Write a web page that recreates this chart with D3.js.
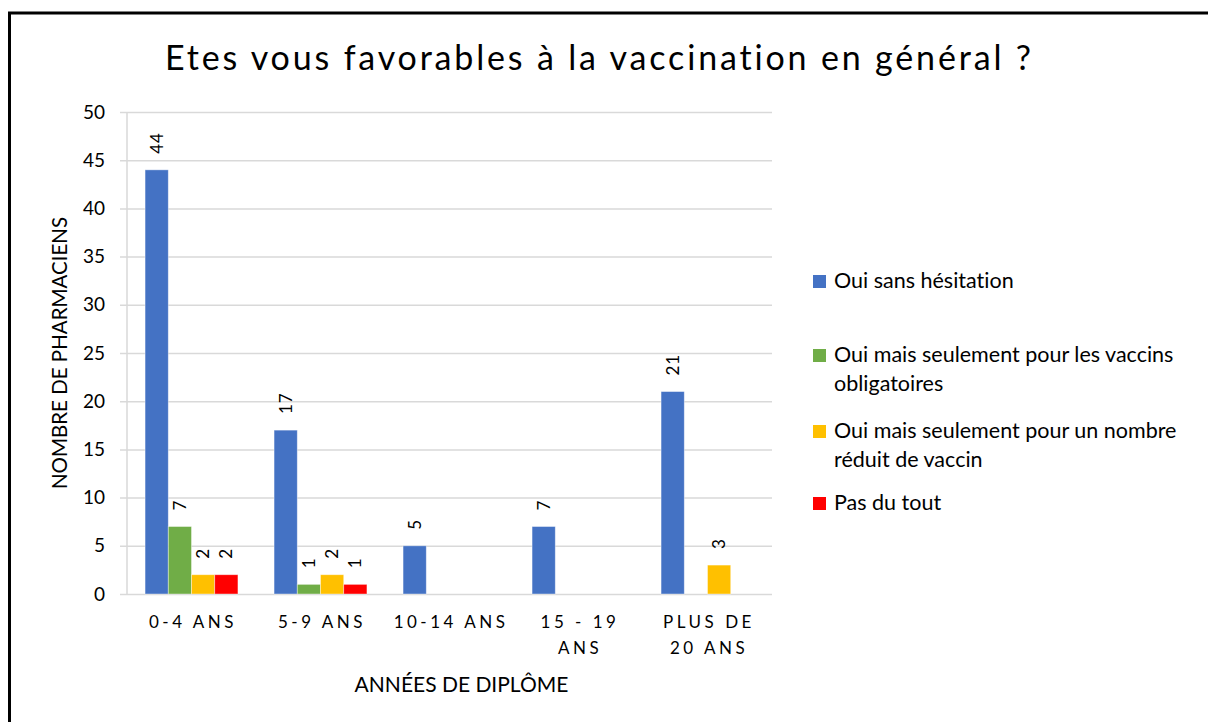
<!DOCTYPE html>
<html>
<head>
<meta charset="utf-8">
<script src="https://cdn.jsdelivr.net/npm/d3@7"></script>
<style>
  body { margin: 0; background: #fff; }
  svg text { font-family: "Lato", "Open Sans", sans-serif; fill: #000; font-variant-ligatures: none; }
</style>
</head>
<body>
<svg id="chart" width="1208" height="722"></svg>
<script>
// categories (x axis) and the lines they wrap to
const categories = ["0-4 ANS", "5-9 ANS", "10-14 ANS", "15 - 19 ANS", "PLUS DE 20 ANS"];
const categoryLines = [["0-4 ANS"], ["5-9 ANS"], ["10-14 ANS"], ["15 - 19", "ANS"], ["PLUS DE", "20 ANS"]];

// series
const seriesNames = [
  "Oui sans hésitation",
  "Oui mais seulement pour les vaccins obligatoires",
  "Oui mais seulement pour un nombre réduit de vaccin",
  "Pas du tout"
];
const legendLines = [
  ["Oui sans hésitation"],
  ["Oui mais seulement pour les vaccins", "obligatoires"],
  ["Oui mais seulement pour un nombre", "réduit de vaccin"],
  ["Pas du tout"]
];
const seriesColors = ["#4472C4", "#70AD47", "#FFC000", "#FF0000"];
const ouiSansHesitation = [44, 17, 5, 7, 21];
const ouiObligatoires = [7, 1, null, null, null];
const ouiNombreReduit = [2, 2, null, null, 3];
const pasDuTout = [2, 1, null, null, null];
const seriesValues = [ouiSansHesitation, ouiObligatoires, ouiNombreReduit, pasDuTout];

const yTicks = [0, 5, 10, 15, 20, 25, 30, 35, 40, 45, 50];

const svg = d3.select("#chart");

// outer frame (right/bottom edges fall outside the picture)
svg.append("rect")
    .attr("x", 9.5).attr("y", 13)
    .attr("width", 1300).attr("height", 800)
    .attr("fill", "none")
    .attr("stroke", "#000")
    .attr("stroke-width", 3);

// plot area
const plotLeft = 127, plotRight = 772, plotTop = 112, plotBottom = 594;

const x0 = d3.scaleBand()
    .domain(categories)
    .range([plotLeft, plotRight]);
const groupPad = x0.bandwidth() * 0.14;
const x1 = d3.scaleBand()
    .domain(seriesNames)
    .range([groupPad, x0.bandwidth() - groupPad]);

const y = d3.scaleLinear()
    .domain([0, 50])
    .range([plotBottom, plotTop]);

// title
svg.append("text")
    .attr("x", 598)
    .attr("y", 70)
    .attr("text-anchor", "middle")
    .attr("textLength", 866)
    .attr("lengthAdjust", "spacing")
    .style("font-size", "34px")
    .text("Etes vous favorables à la vaccination en général ?");

// horizontal gridlines
const grid = svg.append("g")
    .attr("transform", `translate(${plotLeft}, 0)`)
    .call(d3.axisLeft(y).tickValues(yTicks).tickSize(-(plotRight - plotLeft)).tickFormat(""));
grid.select(".domain").remove();
grid.selectAll("line")
    .attr("stroke", "#d9d9d9")
    .attr("stroke-width", 1.5)
    .attr("x1", -7);

// vertical axis line
svg.append("line")
    .attr("x1", plotLeft).attr("x2", plotLeft)
    .attr("y1", plotTop).attr("y2", plotBottom)
    .attr("stroke", "#d9d9d9")
    .attr("stroke-width", 1.5);

// y tick labels
const yAxis = svg.append("g")
    .attr("transform", `translate(${plotLeft - 22}, 0)`)
    .call(d3.axisLeft(y).tickValues(yTicks).tickSize(0).tickPadding(0));
yAxis.select(".domain").remove();
yAxis.selectAll("text")
    .style("font-size", "19px")
    .style("font-family", "Lato, sans-serif");

// y axis title
svg.append("text")
    .attr("transform", `translate(67, ${(plotTop + plotBottom) / 2}) rotate(-90)`)
    .attr("text-anchor", "middle")
    .style("font-size", "20.5px")
    .text("NOMBRE DE PHARMACIENS");

// bars
const cells = [];
seriesValues.forEach((vals, si) => {
  vals.forEach((v, ci) => {
    if (v !== null) cells.push({ cat: categories[ci], series: seriesNames[si], color: seriesColors[si], value: v });
  });
});

const barG = svg.append("g");
barG.selectAll("rect")
    .data(cells)
    .enter()
    .append("rect")
        .attr("x", d => x0(d.cat) + x1(d.series))
        .attr("y", d => y(d.value))
        .attr("width", x1.bandwidth())
        .attr("height", d => y(0) - y(d.value))
        .attr("fill", d => d.color)
        .attr("stroke", "#fff")
        .attr("stroke-opacity", 0.5)
        .attr("stroke-width", 0.8);

// value labels, rotated
barG.selectAll("text")
    .data(cells)
    .enter()
    .append("text")
        .attr("transform", d => {
            const cx = x0(d.cat) + x1(d.series) + x1.bandwidth() / 2 + 6;
            return `translate(${cx}, ${y(d.value) - 16}) rotate(-90)`;
        })
        .attr("text-anchor", "start")
        .style("font-size", "17px")
        .style("letter-spacing", "1px")
        .text(d => d.value);

// x category labels
const xLab = svg.append("g");
categoryLines.forEach((lines, i) => {
  const t = xLab.append("text")
      .attr("y", 628)
      .attr("text-anchor", "middle")
      .style("font-size", "17px")
      .style("letter-spacing", "3.5px");
  lines.forEach((ln, k) => {
    t.append("tspan")
        .attr("x", x0(categories[i]) + x0.bandwidth() / 2 + 1.5)
        .attr("dy", k === 0 ? 0 : 26)
        .text(ln);
  });
});

// x axis title
svg.append("text")
    .attr("x", (plotLeft + plotRight) / 2 + 12)
    .attr("y", 692)
    .attr("text-anchor", "middle")
    .style("font-size", "21px")
    .text("ANNÉES DE DIPLÔME");

// legend
const legendY = [281, 355, 431, 503];
const legend = svg.append("g").attr("transform", "translate(813, 0)");
legendLines.forEach((lines, i) => {
  const g = legend.append("g").attr("transform", `translate(0, ${legendY[i]})`);
  g.append("rect")
      .attr("x", 0).attr("y", -6)
      .attr("width", 13).attr("height", 13)
      .attr("fill", seriesColors[i]);
  const t = g.append("text")
      .attr("x", 21).attr("y", 7)
      .style("font-size", "21.5px");
  lines.forEach((ln, k) => {
    t.append("tspan")
        .attr("x", 21)
        .attr("dy", k === 0 ? 0 : 29)
        .text(ln);
  });
});
</script>
</body>
</html>
